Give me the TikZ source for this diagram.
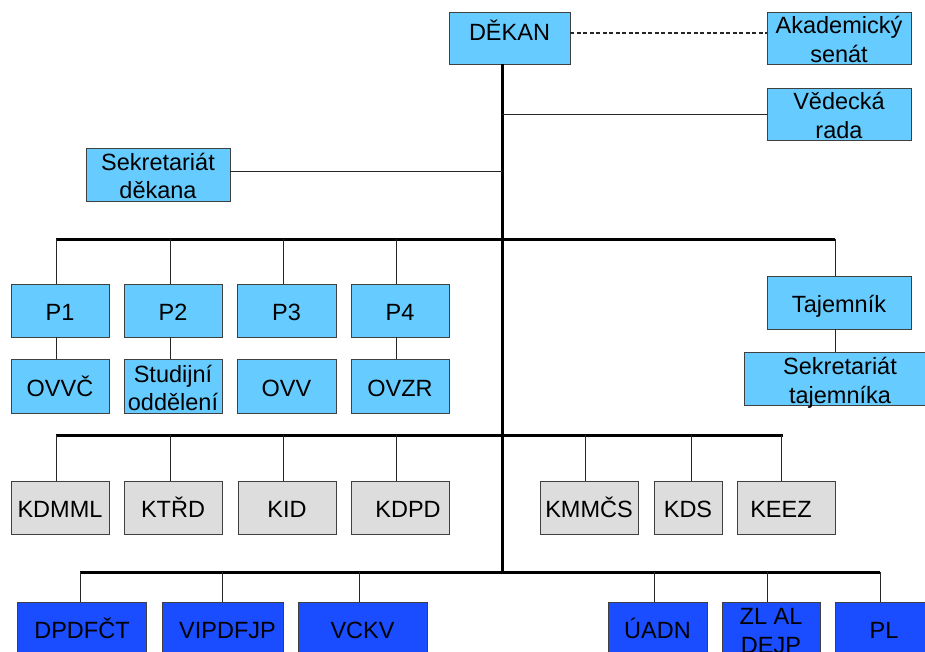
\documentclass[tikz,border=0pt]{standalone}
\usepackage{fontspec}
\setmainfont{Liberation Sans}
\definecolor{skyblue}{HTML}{66CCFF}
\definecolor{deptgray}{HTML}{DDDDDD}
\definecolor{unitblue}{HTML}{1A4DFF}
\newcommand{\boxstrut}{\rule[-4pt]{0pt}{28pt}}

\begin{document}
\begin{tikzpicture}[x = 1pt, y = -1pt,
	every node/.style = {draw = black!75, line width = .8pt, inner sep = 0pt, align = center, font = \fontsize{23.5}{28.5}\selectfont,
		execute at begin node = \boxstrut, execute at end node = \boxstrut},
	twoline/.style = {text height = 49.5pt, text depth = .5pt},
	sky/.style = {fill = skyblue},
	dept/.style = {fill = deptgray, minimum width = 98, minimum height = 53},
	unit/.style = {fill = unitblue, minimum height = 53},
	bar/.style = {line width = 3pt},
	link/.style = {line width = .9pt, draw = black!85}]
	\clip (0,0) rectangle (925,652);
	% vedeni
	\node[sky, minimum width = 121, minimum height = 52] (dekan) at (509.5, 38) {\raisebox{7pt}[0pt][0pt]{DĚKAN}};
	\node[sky, twoline, minimum width = 144, minimum height = 52] (senat) at (839, 38) {Akademický\\senát};
	\node[sky, twoline, minimum width = 144, minimum height = 52] (rada) at (839, 114) {Vědecká\\rada};
	\node[sky, twoline, minimum width = 144, minimum height = 53] (sekdek) at (158, 174.5) {Sekretariát\\děkana};
	% prorektori
	\node[sky, minimum width = 98, minimum height = 53] (p1) at (60, 310.5) {P1};
	\node[sky, minimum width = 98, minimum height = 53] (p2) at (173, 310.5) {P2};
	\node[sky, minimum width = 99, minimum height = 53] (p3) at (286.5, 310.5) {P3};
	\node[sky, minimum width = 98, minimum height = 53] (p4) at (400, 310.5) {P4};
	\node[sky, minimum width = 98, minimum height = 54] (ovvc) at (60, 386) {OVVČ};
	\node[sky, twoline, minimum width = 98, minimum height = 54] (studijni) at (173, 386) {Studijní\\oddělení};
	\node[sky, minimum width = 99, minimum height = 54] (ovv) at (286.5, 386) {OVV};
	\node[sky, minimum width = 98, minimum height = 54] (ovzr) at (400, 386) {OVZR};
	\node[sky, minimum width = 144, minimum height = 53] (tajemnik) at (839, 302.5) {Tajemník};
	\node[sky, twoline, minimum width = 192, minimum height = 53] (sektaj) at (840, 378.5) {Sekretariát\\tajemníka};
	% katedry
	\node[dept] (kdmml) at (60, 507.5) {KDMML};
	\node[dept] (ktrd) at (173, 507.5) {KTŘD};
	\node[dept] (kid) at (287, 507.5) {KID};
	\node[dept] (kdpd) at (400, 507.5) {\hspace{16pt}KDPD};
	\node[dept] (kmmcs) at (589, 507.5) {KMMČS};
	\node[dept, minimum width = 68] (kds) at (688, 507.5) {KDS};
	\node[dept] (keez) at (786, 507.5) {KEEZ\hspace{10pt}};
	% pracoviste
	\node[unit, minimum width = 129] (dpdfct) at (82, 628.5) {DPDFČT};
	\node[unit, minimum width = 121] (vipdfjp) at (222.5, 628.5) {\hspace{10pt}VIPDFJP};
	\node[unit, minimum width = 129] (vckv) at (362.5, 628.5) {VCKV};
	\node[unit, minimum width = 99] (uadn) at (657.5, 628.5) {ÚADN};
	\node[unit, twoline, minimum width = 98] (zlal) at (771, 628.5) {ZL AL\\DEJP};
	\node[unit, minimum width = 98] (pl) at (884, 628.5) {PL};

	\coordinate (spine) at (502, 572);
	\coordinate (b1l) at (56, 239);
	\coordinate (b1r) at (835, 239);
	\coordinate (b2l) at (56, 435);
	\coordinate (b2r) at (783, 435);
	\coordinate (b3l) at (80, 572);
	\coordinate (b3r) at (880, 572);

	\draw[bar] (dekan.south -| spine) -- (spine);
	\draw[bar] (b1l) -- (b1r);
	\draw[bar] (b2l) -- (b2r);
	\draw[bar] (b3l) -- (b3r);
	\draw[link, line width = 1.2pt, dash pattern = on 4pt off 2.5pt] (dekan.east |- 0, 33) -- (senat.west |- 0, 33);
	\draw[link] (rada.west) -- (rada.west -| spine);
	\draw[link] (sekdek.east |- 0, 171) -- (spine |- 0, 171);

	\draw[link] (b1l) -- (b1l |- p1.north);
	\draw[link] (b1l -| 170, 0) -- (170, 0 |- p2.north);
	\draw[link] (b1l -| 283, 0) -- (283, 0 |- p3.north);
	\draw[link] (b1l -| 396, 0) -- (396, 0 |- p4.north);
	\draw[link] (b1r) -- (b1r |- tajemnik.north);
	\draw[link] (b1l |- p1.south) -- (b1l |- ovvc.north);
	\draw[link] (170, 0 |- p2.south) -- (170, 0 |- studijni.north);
	\draw[link] (396, 0 |- p4.south) -- (396, 0 |- ovzr.north);
	\draw[link] (b1r |- tajemnik.south) -- (b1r |- sektaj.north);

	\draw[link] (b2l) -- (b2l |- kdmml.north);
	\draw[link] (b2l -| 170, 0) -- (170, 0 |- ktrd.north);
	\draw[link] (b2l -| 283, 0) -- (283, 0 |- kid.north);
	\draw[link] (b2l -| 396, 0) -- (396, 0 |- kdpd.north);
	\draw[link] (b2l -| 585, 0) -- (585, 0 |- kmmcs.north);
	\draw[link] (b2l -| 691, 0) -- (691, 0 |- kds.north);
	\draw[link] (b2r -| 781, 0) -- (781, 0 |- keez.north);

	\draw[link] (b3l) -- (b3l |- dpdfct.north);
	\draw[link] (b3l -| 222, 0) -- (222, 0 |- vipdfjp.north);
	\draw[link] (b3l -| 359, 0) -- (359, 0 |- vckv.north);
	\draw[link] (b3l -| 654, 0) -- (654, 0 |- uadn.north);
	\draw[link] (b3l -| 767, 0) -- (767, 0 |- zlal.north);
	\draw[link] (b3r) -- (b3r |- pl.north);
\end{tikzpicture}
\end{document}
